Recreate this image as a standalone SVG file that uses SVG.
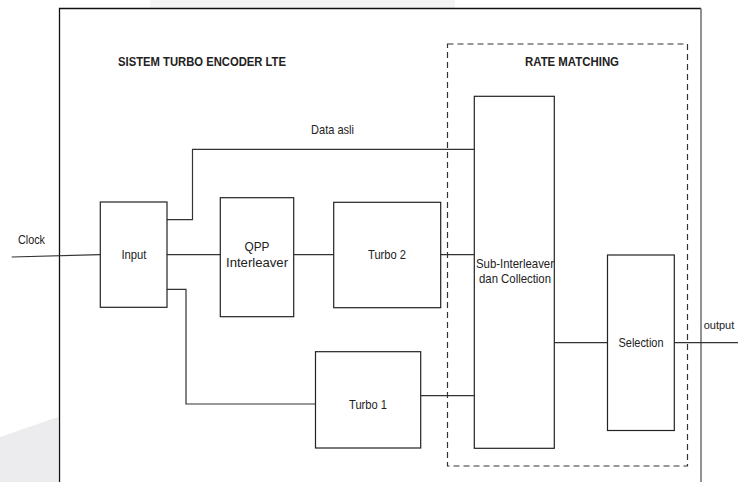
<svg xmlns="http://www.w3.org/2000/svg" width="738" height="482" viewBox="0 0 738 482">
<style>
.box{fill:#fff;stroke:#222;stroke-width:1.2}
.ln{fill:none;stroke:#333;stroke-width:1.2}
.t{font-family:"Liberation Sans",Arial,sans-serif;font-size:13px;fill:#222;text-anchor:middle}
.b{font-family:"Liberation Sans",Arial,sans-serif;font-size:12px;font-weight:bold;fill:#222}
</style>
<rect width="738" height="482" fill="#fff"/>
<rect x="150" y="0" width="305" height="8" fill="#f4f4f4"/>
<polygon points="0,437 58,417 58,482 0,482" fill="#ececee"/>
<g id="frame">
<path d="M59.5,482 V8.5 H701" fill="none" stroke="#111" stroke-width="1.3"/>
<path d="M701,8.5 V482" fill="none" stroke="#777" stroke-width="1.6"/>
<text class="b" x="118" y="66" textLength="168" lengthAdjust="spacingAndGlyphs">SISTEM TURBO ENCODER LTE</text>
</g>
<g id="rate-matching">
<rect x="447.5" y="44" width="240" height="422" fill="none" stroke="#333" stroke-width="1.2" stroke-dasharray="6 4"/>
<text class="b" x="525" y="66" textLength="94" lengthAdjust="spacingAndGlyphs">RATE MATCHING</text>
</g>
<g id="connectors">
<path class="ln" d="M11.7,257 L100.3,254.7"/>
<path class="ln" d="M167,254.7 H220.3"/>
<path class="ln" d="M167,219.7 H192.5 V149.3 H474.3"/>
<path class="ln" d="M167,289.3 H186 V404 H315.5"/>
<path class="ln" d="M293.7,254.7 H333.7"/>
<path class="ln" d="M440.7,254.7 H474.3"/>
<path class="ln" d="M420.7,395.7 H474.3"/>
<path class="ln" d="M554.3,342.7 H607.5"/>
<path class="ln" d="M674.3,342.7 H738"/>
<text class="t" x="31.5" y="244" textLength="27" lengthAdjust="spacingAndGlyphs">Clock</text>
<text class="t" x="332.5" y="134" textLength="43" lengthAdjust="spacingAndGlyphs">Data asli</text>
<text class="t" x="719" y="329" style="font-size:11px">output</text>
</g>
<g id="input">
<rect class="box" x="100.3" y="202" width="66.7" height="105.3"/>
<text class="t" x="134" y="259" textLength="25" lengthAdjust="spacingAndGlyphs">Input</text>
</g>
<g id="qpp">
<rect class="box" x="220.3" y="197.7" width="73.4" height="119"/>
<text class="t" x="257" y="251" textLength="25" lengthAdjust="spacingAndGlyphs">QPP</text>
<text class="t" x="257" y="267" textLength="62" lengthAdjust="spacingAndGlyphs">Interleaver</text>
</g>
<g id="turbo2">
<rect class="box" x="333.7" y="202.3" width="107" height="105.4"/>
<text class="t" x="387" y="258.5" textLength="38" lengthAdjust="spacingAndGlyphs">Turbo 2</text>
</g>
<g id="turbo1">
<rect class="box" x="315.5" y="351.7" width="105.2" height="96.3"/>
<text class="t" x="368" y="409" textLength="38" lengthAdjust="spacingAndGlyphs">Turbo 1</text>
</g>
<g id="sub-interleaver">
<rect class="box" x="474.3" y="96.3" width="80" height="352"/>
<text class="t" x="515" y="267.5" textLength="78" lengthAdjust="spacingAndGlyphs">Sub-Interleaver</text>
<text class="t" x="515" y="283" textLength="72" lengthAdjust="spacingAndGlyphs">dan Collection</text>
</g>
<g id="selection">
<rect class="box" x="607.5" y="255" width="66.8" height="175.5"/>
<text class="t" x="641" y="347" textLength="45" lengthAdjust="spacingAndGlyphs">Selection</text>
</g>
</svg>
